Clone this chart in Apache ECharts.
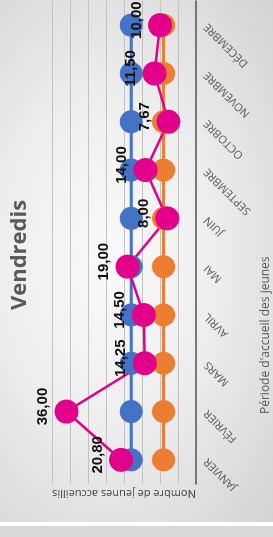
<!DOCTYPE html>
<html>
<head>
<meta charset="utf-8">
<script src="https://cdn.jsdelivr.net/npm/echarts@6/dist/echarts.min.js"></script>
<style>
  html, body { margin: 0; padding: 0; width: 273px; height: 537px; overflow: hidden; background: #d9d9d9; }
  #wrap { position: absolute; left: 0; top: 0; width: 273px; height: 522px; overflow: hidden; }
  #chart {
    position: absolute; left: 0; top: 0; width: 522px; height: 273px;
    transform-origin: 0 0; transform: translate(0, 522px) rotate(-90deg);
    background: radial-gradient(ellipse at 50% 40%, #fafafa 0%, #eeeeee 45%, #d3d3d3 100%);
  }
  #sep { position: absolute; left: 0; top: 522px; width: 273px; height: 4px; background: #ffffff; }
</style>
</head>
<body>
<div id="wrap"><div id="chart"></div></div>
<div id="sep"></div>
<script>
const months = ['JANVIER', 'FÉVRIER', 'MARS', 'AVRIL', 'MAI', 'JUIN', 'SEPTEMBRE', 'OCTOBRE', 'NOVEMBRE', 'DÉCEMBRE'];
const blueValues = [18, 18, 18, 18, 18, 18, 18, 18, 18, 18];
const orangeValues = [9, 9, 9, 9, 9, 9, 9, 9, 9, 9];
const pinkValues = [20.8, 36, 14.25, 14.5, 19, 8, 14, 7.67, 11.5, 10];

const frNumber = v => v.toFixed(2).replace('.', ',');

function lineSeries(name, data, color, width, size) {
    return {
        name: name,
        type: 'line',
        data: data,
        symbol: 'circle',
        symbolSize: size,
        lineStyle: { color: color, width: width },
        itemStyle: { color: color },
        emphasis: { disabled: true }
    };
}

const pink = lineSeries('Vendredis', pinkValues, '#e2008a', 2.5, 24);
pink.label = {
    show: true,
    position: 'top',
    distance: 4,
    offset: [5, 0],
    color: '#111',
    fontFamily: 'Liberation Sans',
    fontWeight: 'bold',
    fontSize: 15,
    formatter: p => frNumber(p.value)
};

const chart = echarts.init(document.getElementById('chart'));
chart.setOption({
    animation: false,
    backgroundColor: 'transparent',
    title: {
        text: 'Vendredis',
        left: 262,
        top: 4,
        textAlign: 'center',
        textStyle: { fontFamily: 'Open Sans', fontWeight: 'bold', fontSize: 22, color: '#595959' }
    },
    graphic: [{
        type: 'text',
        left: 108,
        top: 260,
        style: { text: "Période d'accueil des jeunes", font: '12px "Open Sans"', fill: '#595959' }
    }],
    grid: { left: 38, right: 1, top: 52, bottom: 77 },
    xAxis: {
        type: 'category',
        data: months,
        axisLine: { lineStyle: { color: '#595959', width: 1.5 } },
        axisTick: { show: false },
        axisLabel: { rotate: 45, margin: 10, color: '#595959', fontFamily: 'Open Sans', fontSize: 11, interval: 0 }
    },
    yAxis: {
        type: 'value',
        min: 0,
        max: 40,
        interval: 5,
        name: 'Nombre de jeunes accueillis',
        nameLocation: 'middle',
        nameGap: 4,
        nameTextStyle: { color: '#404040', fontFamily: 'Open Sans', fontSize: 11 },
        axisLine: { show: false },
        axisTick: { show: false },
        axisLabel: { show: false },
        splitLine: { lineStyle: { color: '#c2c2c2', width: 1 } }
    },
    series: [
        lineSeries('Série bleue', blueValues, '#4472c4', 3, 23),
        lineSeries('Série orange', orangeValues, '#ed7d31', 3, 23),
        pink
    ]
});
</script>
</body>
</html>
